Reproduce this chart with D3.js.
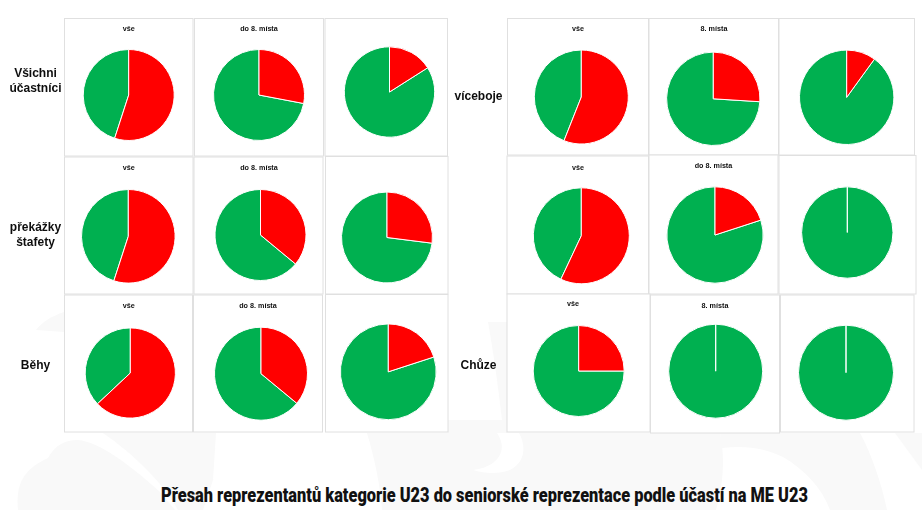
<!DOCTYPE html>
<html>
<head>
<meta charset="utf-8">
<script src="https://cdn.jsdelivr.net/npm/d3@7"></script>
<style>
  html, body { margin: 0; padding: 0; background: #fff; }
  svg { display: block; }
</style>
</head>
<body>
<svg id="chart" width="922" height="510"></svg>
<script>
// share of red per pie, one list per column, rows go left block then right block
var redAll = [55, 56, 55, 57, 63, 25];
var redTop8 = [28, 26, 36, 20, 36, 0];
var redThird = [16, 10, 27, 0, 20, 0];
var titlesAll = ["vše", "vše", "vše", "vše", "vše", "vše"];
var titlesTop8 = ["do 8. místa", "8. místa", "do 8. místa", "do 8. místa", "do 8. místa", "8. místa"];
var mainTitle = "Přesah reprezentantů kategorie U23 do seniorské reprezentace podle účastí na ME U23";

var colorRed = "#ff0000", colorGreen = "#00b050";

// layout of the pasted panels: box x0,y0,x1,y1 and pie cx,cy,r
var panelLayout = [
  [[64.5,18.5,193,156,128.7,95,45],[194.5,18.5,323.5,156,259,95,45],[325,18.5,447.5,156,389.5,92,44.7]],
  [[507.5,18.5,648.5,155,581.3,97,46.5],[649,18.5,778.5,155,713.3,98.8,46.2],[779,18.5,914.5,155,846.7,97.3,46.7]],
  [[64.5,157,193,294,128.3,236.3,46.3],[194,157,323,294,260.5,235,45],[325.5,156.5,448,294,387,237.5,45]],
  [[507,156,648.5,294,581.3,235.8,47.5],[649,155,778,294,715,235,47.7],[779,155.5,916,294,847.3,232.5,45.2]],
  [[64.5,295,192.5,432,130.3,373,44.6],[193.5,295,322.5,432,261,373.7,46],[325.5,294.5,448,432,388.3,371.8,47.4]],
  [[507,294,650,432,578.7,371,45],[650.5,295,779.5,433,715.7,371.2,46.5],[780.5,295,914,432,846,372.7,47]]
];
var titleY = [[31,31,0],[31,31,0],[170,170,0],[170,168,0],[308,308,0],[306,308,0]];
var titleX = [[128.7,259,0],[578,714,0],[128.7,259,0],[578,713.5,0],[128.7,258,0],[573,715,0]];

// row labels, split by hand like in the original
var rowLabels = [
  {lines: ["Všichni", "účastníci"], x: 35.5, y: 77},
  {lines: ["víceboje"], x: 478.5, y: 100},
  {lines: ["překážky", "štafety"], x: 35.5, y: 231},
  {lines: ["Běhy"], x: 35.5, y: 369},
  {lines: ["Chůze"], x: 478.5, y: 369}
];

var svg = d3.select("#chart");

// the labels are soft in the original, it is a pasted bitmap
svg.append("defs").append("filter").attr("id", "soft")
  .append("feGaussianBlur").attr("stdDeviation", 0.25);

// faint logo in the background
var wm = svg.append("g").attr("fill", "#f9f9f9");
wm.append("path").attr("d", "M36 330 C42 322 52 316 64 312 L64 332 Z");
wm.append("path").attr("d", "M18 510 C16 485 22 470 48 458 C55 445 65 440 78 440 C100 442 130 465 160 492 L175 510 Z");
wm.append("path").attr("d", "M103 433 L216 433 L213 480 C208 495 205 505 203 510 L178 510 C165 485 135 455 103 433 Z");
wm.append("path").attr("d", "M367 433 L720 433 C726 460 722 490 716 510 L382 510 C380 485 375 460 367 433 Z");
wm.append("path").attr("d", "M488 322 L507 322 L507 433 L448 433 L448 420 L502 420 C498 385 493 350 488 322 Z");
wm.append("path").attr("d", "M720 433 L860 433 C872 455 882 485 887 510 L830 510 C822 488 805 470 783 457 C765 448 745 445 722 448 Z");
wm.append("path").attr("d", "M895 433 L922 433 L922 470 Z");
wm.append("path").attr("fill", "#fff").attr("d", "M497 433 L519 433 C526 445 526 462 510 470 C500 474 485 474 473 470 C495 468 510 452 497 433 Z");

var pie = d3.pie().sort(null).startAngle(0).endAngle(2 * Math.PI);
var arc = d3.arc().innerRadius(0);

var rowValues = d3.range(6).map(function (i) { return [redAll[i], redTop8[i], redThird[i]]; });

rowValues.forEach(function (row, i) {
  row.forEach(function (red, j) {
    var p = panelLayout[i][j];
    var g = svg.append("g");
    g.append("rect")
      .attr("x", p[0]).attr("y", p[1])
      .attr("width", p[2] - p[0]).attr("height", p[3] - p[1])
      .attr("fill", "#fff").attr("stroke", "#e0e0e0").attr("stroke-width", 1);

    var slices = pie([red, 100 - red]);
    // green goes first so a zero red slice still leaves its white line on top
    g.append("g")
      .attr("transform", "translate(" + p[4] + "," + p[5] + ")")
      .selectAll("path")
      .data(slices.slice().reverse())
      .join("path")
      .attr("d", function (d) { return arc.outerRadius(p[6] + 0.5)(d); })
      .attr("fill", function (d) { return d.index === 0 ? colorRed : colorGreen; })
      .attr("stroke", "#fff")
      .attr("stroke-width", 1);

    var t = j === 0 ? titlesAll[i] : j === 1 ? titlesTop8[i] : null;
    if (t) {
      g.append("text")
        .attr("x", titleX[i][j]).attr("y", titleY[i][j])
        .attr("text-anchor", "middle")
        .attr("font-family", "Liberation Sans")
        .attr("font-weight", "bold")
        .attr("font-size", 7.2)
        .attr("fill", "#111")
        .attr("filter", "url(#soft)")
        .text(t);
    }
  });
});

rowLabels.forEach(function (r) {
  var txt = svg.append("text")
    .attr("text-anchor", "middle")
    .attr("font-family", "Liberation Sans")
    .attr("font-weight", "bold")
    .attr("font-size", 12)
    .attr("fill", "#111")
    .attr("filter", "url(#soft)");
  r.lines.forEach(function (l, k) {
    txt.append("tspan").attr("x", r.x).attr("y", r.y + k * 15).text(l);
  });
});

// no condensed Roboto here, so squeeze the bold one to the original width
var title = svg.append("text")
  .attr("text-anchor", "middle")
  .attr("font-family", "Roboto")
  .attr("font-weight", 900)
  .attr("font-size", 19.5)
  .attr("fill", "#111")
  .text(mainTitle);
var squeeze = 647 / title.node().getComputedTextLength();
title.attr("transform", "translate(484.5,502) scale(" + squeeze + ",1)");
</script>
</body>
</html>
